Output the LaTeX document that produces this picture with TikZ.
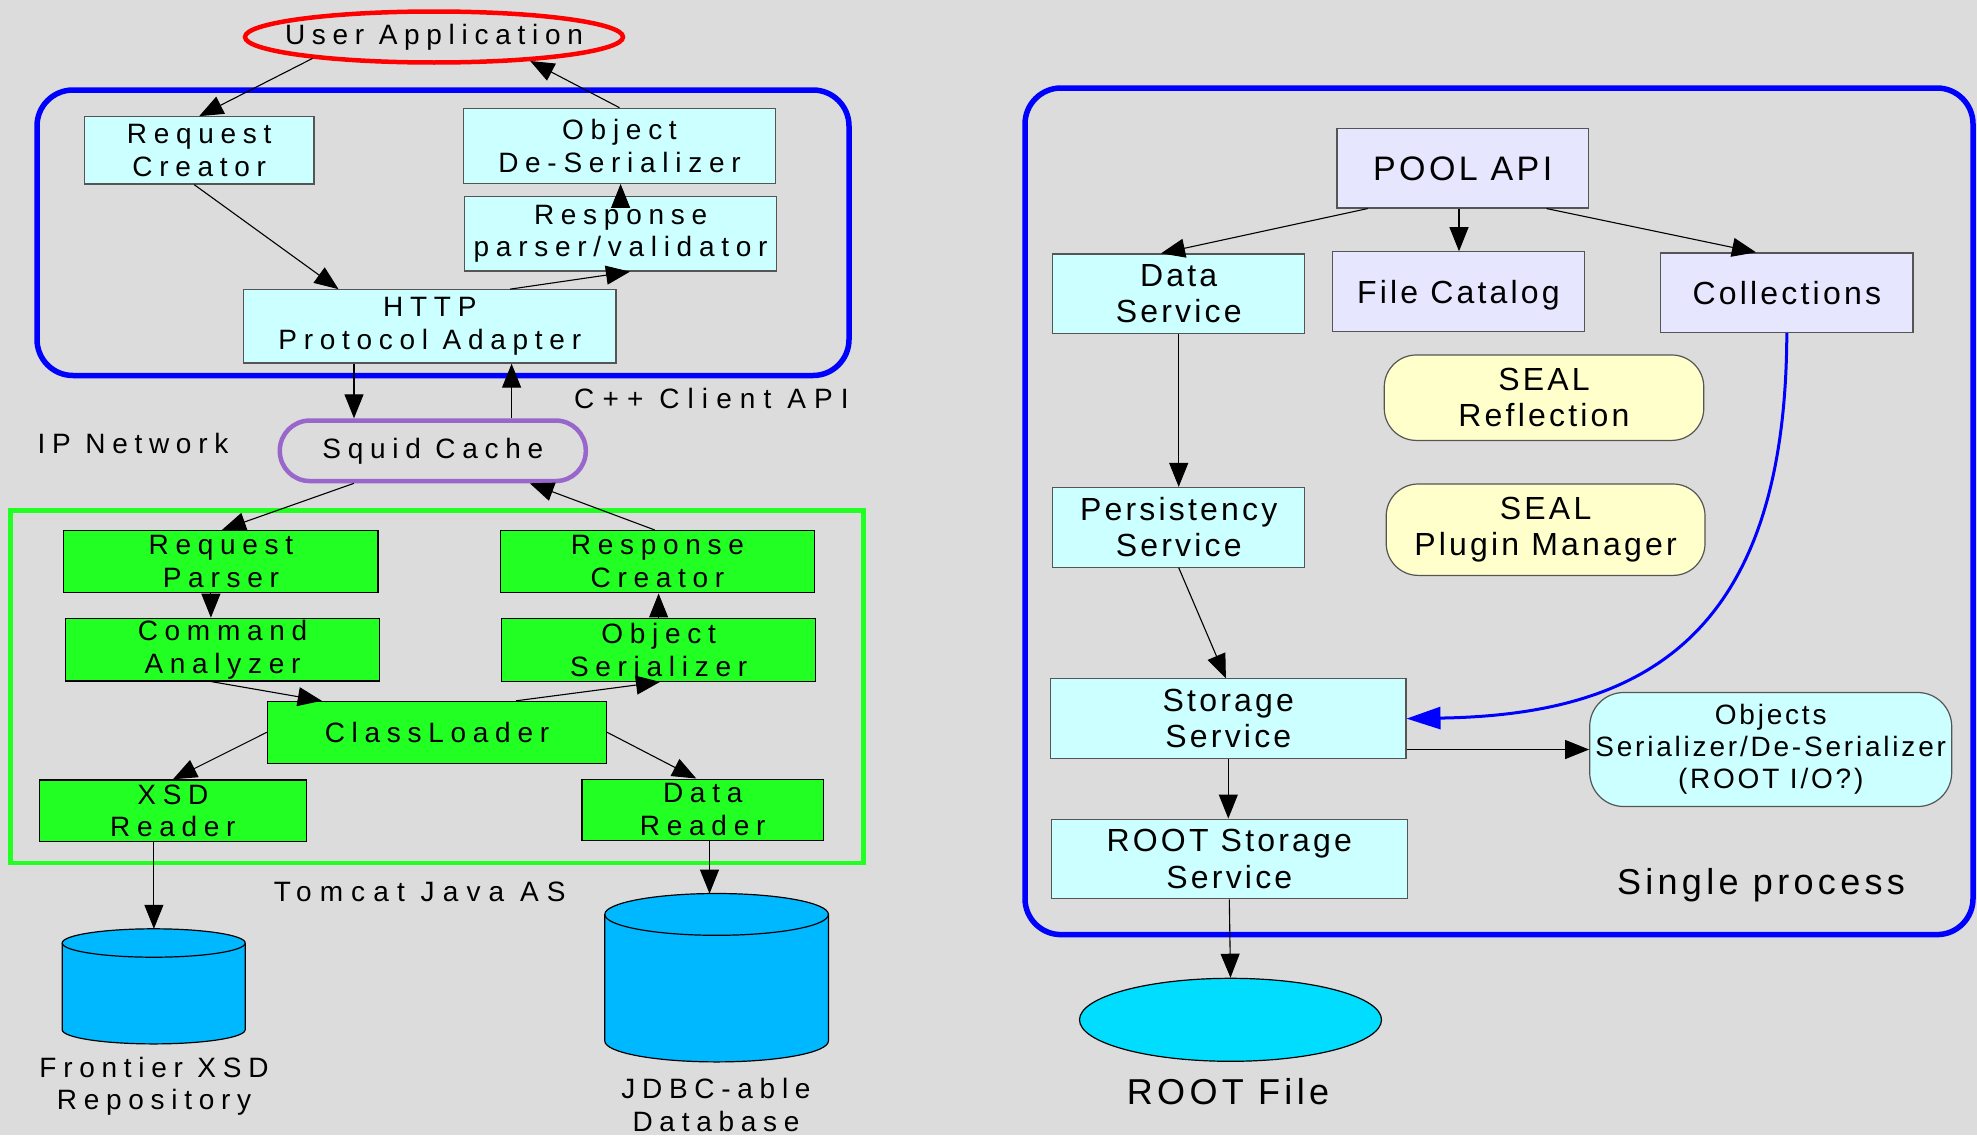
\documentclass[tikz,border=0pt]{standalone}
\usepackage{fontspec}
\setmainfont{Liberation Sans}
\newfontfamily\lfont[LetterSpace=24]{Liberation Sans}
\newfontfamily\lfontw[LetterSpace=29]{Liberation Sans}
\newfontfamily\rfont[LetterSpace=10]{Liberation Sans}
\newfontfamily\rfontw[LetterSpace=12]{Liberation Sans}
\usetikzlibrary{arrows.meta,calc,shapes.geometric}

\definecolor{bg}{HTML}{DCDCDC}
\definecolor{cyanbox}{HTML}{CCFFFF}
\definecolor{lav}{HTML}{E6E6FF}
\definecolor{yel}{HTML}{FFFFCC}
\definecolor{grn}{HTML}{22FF22}
\definecolor{frameblue}{HTML}{0000FF}
\definecolor{purp}{HTML}{9966CC}
\definecolor{cylblue}{HTML}{00B8FF}
\definecolor{rootcyan}{HTML}{00DDFF}
\definecolor{boxline}{HTML}{555555}

\tikzset{
  lt/.style={font=\lfont\fontsize{28}{32.5}\selectfont, align=center},
  ltw/.style={font=\lfontw\fontsize{28}{32.5}\selectfont, align=center},
  rt/.style={font=\rfont\fontsize{32}{36.5}\selectfont, align=center},
  rtw/.style={font=\rfontw\fontsize{36}{40}\selectfont, align=center},
  lbox/.style={lt, draw=boxline, line width=1.2pt, fill=cyanbox, inner sep=0pt},
  gbox/.style={lt, draw=black, line width=1.2pt, fill=grn, inner sep=0pt},
  rbox/.style={rt, draw=boxline, line width=1.2pt, inner sep=0pt},
  conn/.style={draw=black, line width=1.1pt, -{Triangle[length=24pt,width=19pt]}},
}

\begin{document}
\begin{tikzpicture}[x=1pt,y=-1pt]
\fill[bg] (0,0) rectangle (1977,1135);
\useasboundingbox (0,0) rectangle (1977,1135);

% ---------- frames ----------
\draw[frameblue, line width=5.5pt, rounded corners=36pt] (37,90) rectangle (849,375.5);
\draw[grn, line width=4.5pt] (10.5,510.6) rectangle (863.4,862.9);
\draw[frameblue, line width=5.5pt, rounded corners=36pt] (1025,88) rectangle (1973,934.6);

% ---------- left: client ----------
\node[draw=red, line width=4.5pt, ellipse, minimum width=378pt, minimum height=51pt, inner sep=0pt] (ua) at (434,37) {};
\node[lt] (ual) at (ua.center) {User Application};
\node[lbox, minimum width=229.7pt, minimum height=67.3pt] (rc) at (199.2,150.4) {Request\\Creator};
\node[lbox, minimum width=312.4pt, minimum height=75pt] (od) at (619.5,145.8) {Object\\De-Serializer};
\node[lbox, minimum width=312.4pt, minimum height=74.7pt] (rp) at (620.6,233.7) {Response\\parser/validator};
\node[lbox, minimum width=372.3pt, minimum height=73.3pt] (http) at (429.8,326.4) {HTTP\\Protocol Adapter};
\node[lt, draw=purp, line width=4.5pt, rounded corners=30pt, minimum width=306pt, minimum height=60.5pt, inner sep=0pt] (squid) at (432.8,450.8) {Squid Cache};

\node[ltw, anchor=base] (cpp) at (711.5,408) {C++ Client API};
\node[lt, anchor=base] (ipn) at (133,453) {IP Network};
\node[ltw, anchor=base] (tomcat) at (419.8,901) {Tomcat Java AS};

% ---------- left: server ----------
\node[gbox, minimum width=314.1pt, minimum height=61.9pt] (rpars) at (220.9,561.5) {Request\\Parser};
\node[gbox, minimum width=314pt, minimum height=62.3pt] (rcre) at (657.5,561.7) {Response\\Creator};
\node[gbox, minimum width=314pt, minimum height=62.6pt] (ca) at (222.5,649.6) {Command\\Analyzer};
\node[gbox, minimum width=314pt, minimum height=63pt] (os) at (658.6,649.8) {Object\\Serializer};
\node[gbox, minimum width=339.1pt, minimum height=61.8pt] (cl) at (437,732.3) {ClassLoader};
\node[gbox, minimum width=266.9pt, minimum height=61.4pt] (xsd) at (172.9,810.6) {XSD\\Reader};
\node[gbox, minimum width=241.4pt, minimum height=61pt] (dr) at (702.7,809.6) {Data\\Reader};

% ---------- cylinders ----------
\fill[cylblue] (62.2,943) -- (62.2,1029.7) arc[start angle=180,end angle=360,x radius=91.5pt,y radius=14.2pt] -- (245.2,943) -- cycle;
\draw[line width=1.2pt] (62.2,943) -- (62.2,1029.7) arc[start angle=180,end angle=360,x radius=91.5pt,y radius=14.2pt] -- (245.2,943);
\draw[line width=1.2pt, fill=cylblue] (153.7,943) ellipse[x radius=91.5pt, y radius=14.2pt];
\coordinate (frtop) at (153.9,928.8);

\fill[cylblue] (604.8,914.4) -- (604.8,1041) arc[start angle=180,end angle=360,x radius=111.8pt,y radius=20.9pt] -- (828.4,914.4) -- cycle;
\draw[line width=1.2pt] (604.8,914.4) -- (604.8,1041) arc[start angle=180,end angle=360,x radius=111.8pt,y radius=20.9pt] -- (828.4,914.4);
\draw[line width=1.2pt, fill=cylblue] (716.6,914.4) ellipse[x radius=111.8pt, y radius=20.9pt];
\coordinate (jdin) at (709.5,893.6);

\node[lt, anchor=north, inner sep=0pt, font=\lfont\fontsize{28}{32.7}\selectfont] (frl) at (154,1056.7) {Frontier XSD\\Repository};
\node[lt, anchor=north, inner sep=0pt, font=\lfont\fontsize{28}{32.7}\selectfont] (jdl) at (716,1078) {JDBC-able\\Database};

% ---------- left connectors ----------
\draw[conn] (ua.190) -- (rc.north);
\draw[conn] (od.north) -- (ua.-14);
\draw[conn] ([xshift=-5pt]rc.south) -- ([xshift=-91.3pt]http.north);
\draw[conn] ([xshift=80.2pt]http.north) -- ([xshift=9.4pt]rp.south);
\draw[conn] (rp.north) -- (rp.north |- od.south);
\draw[conn] ([xshift=-75.8pt]http.south) -- ([xshift=-75.8pt]http.south |- squid.north);
\draw[conn] ([xshift=78.8pt]squid.north) -- ([xshift=78.8pt]squid.north |- http.south);
\draw[conn] ([xshift=-78.8pt]squid.south) -- ([xshift=1pt]rpars.north);
\draw[conn] ([xshift=-2.8pt]rcre.north) -- ([xshift=97pt]squid.south);
\draw[conn] ([xshift=-10pt]rpars.south) -- ([xshift=-10pt]rpars.south |- ca.north);
\draw[conn] (os.north) -- (os.north |- rcre.south);
\draw[conn] ([xshift=-11.7pt]ca.south) -- ([xshift=-115.2pt]cl.north);
\draw[conn] ([xshift=79pt]cl.north) -- ([xshift=1.4pt]os.south);
\draw[conn] (cl.west) -- (xsd.north);
\draw[conn] (cl.east) -- ([xshift=-6.4pt]dr.north);
\draw[conn] (frtop |- xsd.south) -- (frtop);
\draw[conn] (jdin |- dr.south) -- (jdin);

% ---------- right: POOL ----------
\node[rbox, fill=lav, minimum width=251.6pt, minimum height=79.3pt, font=\rfont\fontsize{34}{38}\selectfont] (pool) at (1462.7,168.3) {POOL API};
\node[rbox, fill=cyanbox, minimum width=252.2pt, minimum height=79.7pt] (ds) at (1178.7,293.8) {Data\\Service};
\node[rbox, fill=lav, minimum width=251.7pt, minimum height=79.6pt, text depth=0pt] (fc) at (1458.4,291.6) {File Catalog};
\node[rbox, fill=lav, minimum width=252.3pt, minimum height=79.6pt] (coll) at (1786.8,292.7) {Collections};
\node[rbox, fill=yel, rounded corners=32pt, minimum width=319.5pt, minimum height=85.4pt] (sr) at (1544,397.7) {SEAL\\Reflection};
\node[rbox, fill=yel, rounded corners=32pt, minimum width=318.8pt, minimum height=91.4pt] (spm) at (1545.6,529.7) {SEAL\\Plugin Manager};
\node[rbox, fill=cyanbox, minimum width=252.2pt, minimum height=79.6pt] (ps) at (1178.7,527.3) {Persistency\\Service};
\node[rbox, fill=cyanbox, minimum width=355.2pt, minimum height=79.6pt] (ss) at (1228.3,718.6) {Storage\\Service};
\node[rbox, fill=cyanbox, rounded corners=34pt, minimum width=362pt, minimum height=114pt, font=\rfont\fontsize{28}{32}\selectfont] (obj) at (1770.7,749.5) {Objects\\Serializer/De-Serializer\\(ROOT I/O?)};
\node[rbox, fill=cyanbox, minimum width=355.9pt, minimum height=79.5pt] (rss) at (1229.3,858.9) {ROOT Storage\\Service};
\node[draw=black, line width=1.2pt, fill=rootcyan, ellipse, minimum width=302pt, minimum height=83pt, inner sep=0pt] (rf) at (1230.5,1019.8) {};
\node[rtw, anchor=base] (rfl) at (1228,1104.5) {ROOT File};
\node[rtw, anchor=base] (sp) at (1761,894) {Single process};

% ---------- right connectors ----------
\draw[conn] ([xshift=-95pt]pool.south) -- ([xshift=-17.7pt]ds.north);
\draw[conn] ([xshift=-3.7pt]pool.south) -- ([xshift=-3.7pt]pool.south |- fc.north);
\draw[conn] ([xshift=83.8pt]pool.south) -- ([xshift=-30.8pt]coll.north);
\draw[conn] (ds.south) -- (ps.north);
\draw[conn] (ps.south) -- ([xshift=-2.4pt]ss.north);
\draw[conn] (ss.south) -- (ss.south |- rss.north);
\draw[conn] (obj.west -| ss.east) -- (obj.west);
\draw[conn] (rss.south) -- (rf.north);
\draw[frameblue, line width=3pt, -{Triangle[length=34pt,width=22pt]}] (coll.south) .. controls (1786,640) and (1640,715) .. (ss.east);
\end{tikzpicture}
\end{document}
